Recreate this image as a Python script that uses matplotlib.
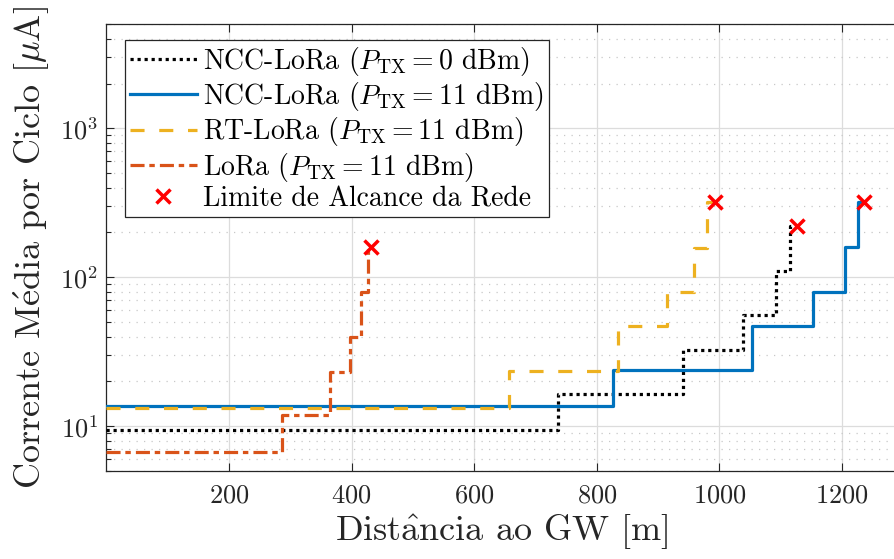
import matplotlib
matplotlib.use("Agg")
import matplotlib.pyplot as plt
from matplotlib.ticker import LogLocator, NullFormatter

plt.rcParams["font.family"] = "serif"
plt.rcParams["font.serif"] = ["cmr10"]
plt.rcParams["mathtext.fontset"] = "cm"
plt.rcParams["axes.unicode_minus"] = False
plt.rcParams["axes.formatter.use_mathtext"] = True

# distância [m] onde o nível muda, e corrente média [uA] de cada nível
ncc0_x = [0, 737, 941, 1038, 1092, 1115, 1126]
ncc0_y = [9.4, 16.4, 32.6, 56, 111, 220, 220]

ncc11_x = [0, 827, 1053, 1152, 1205, 1226, 1236]
ncc11_y = [13.6, 23.7, 47, 80, 160, 318, 318]

rt_x = [0, 656, 835, 914, 959, 980, 993]
rt_y = [13.3, 23.3, 46.8, 80, 158, 318, 318]

lora_x = [0, 286, 364, 397, 416, 427, 431]
lora_y = [6.7, 11.8, 23.1, 40, 80, 159, 159]

limite_x = [431, 993, 1126, 1236]
limite_y = [159, 318, 220, 318]

fig = plt.figure(figsize=(8.95, 5.59), dpi=100)
ax = fig.add_axes([0.1189, 0.1574, 0.8836, 0.7991])

ax.step(ncc0_x, ncc0_y, where="post", color="black", linewidth=2.3,
        linestyle=(0, (1, 1.2)), dash_capstyle="butt",
        label=r"NCC-LoRa ($P_{\rm TX} = 0$ dBm)", zorder=3)
ax.step(ncc11_x, ncc11_y, where="post", color="#0072BD", linewidth=2.3,
        label=r"NCC-LoRa ($P_{\rm TX} = 11$ dBm)", zorder=3)
ax.step(rt_x, rt_y, where="post", color="#EDB120", linewidth=2.3,
        linestyle=(0, (4.4, 4.6)), dash_capstyle="butt",
        label=r"RT-LoRa ($P_{\rm TX} = 11$ dBm)", zorder=4)
ax.step(lora_x, lora_y, where="post", color="#D95319", linewidth=2.3,
        linestyle=(0, (4.4, 1.5, 1.7, 1.6)), dash_capstyle="butt",
        label=r"LoRa ($P_{\rm TX} = 11$ dBm)", zorder=4)
ax.plot(limite_x, limite_y, linestyle="none", marker="x", color="red",
        markersize=10, markeredgewidth=2.5, label="Limite de Alcance da Rede",
        zorder=5)

ax.set_yscale("log")
ax.set_xlim(0, 1290)
ax.set_ylim(5, 5000)
ax.set_xticks([200, 400, 600, 800, 1000, 1200])
ax.yaxis.set_major_locator(LogLocator(base=10, numticks=10))
ax.yaxis.set_minor_locator(LogLocator(base=10, subs=range(2, 10), numticks=20))
ax.yaxis.set_minor_formatter(NullFormatter())

ax.grid(True, which="major", color="#dcdcdc", linewidth=0.9, linestyle="-")
ax.grid(True, which="minor", axis="y", color="#c8c8c8", linewidth=0.9,
        linestyle=(0, (1, 5)))
ax.set_axisbelow(True)

ax.tick_params(which="both", direction="in", top=True, right=False,
               labelsize=19, colors="#262626")
ax.tick_params(which="major", length=6, width=0.8)
ax.tick_params(which="minor", length=3.5, width=0.8)
ax.tick_params(axis="x", pad=9)
ax.tick_params(axis="y", pad=6)
for s in ax.spines.values():
    s.set_color("#262626")
    s.set_linewidth(0.9)

ax.set_xlabel(r"Dist$\hat{\mathrm{a}}$ncia ao GW [m]", fontsize=26,
              color="#262626", labelpad=4)
ax.set_ylabel(r"Corrente M$\acute{\mathrm{e}}$dia por Ciclo [$\mu$A]", fontsize=26,
              color="#262626", labelpad=6)

leg = ax.legend(loc="upper left", bbox_to_anchor=(0.0235, 0.965), fontsize=20,
                fancybox=False, edgecolor="#262626", framealpha=1,
                handlelength=2.4, handletextpad=0.22, labelspacing=0.08,
                borderpad=0.18, borderaxespad=0)
leg.get_frame().set_linewidth(0.9)

fig.savefig("out.png", dpi=100)
